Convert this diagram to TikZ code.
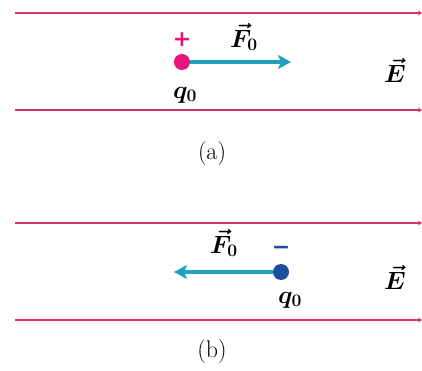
\RequirePackage{fix-cm}
\documentclass[tikz,border=0pt]{standalone}
\usepackage{amsmath,amssymb}
\usepackage{fontspec}
\newfontfamily\signfont{DejaVu Sans}
\usepackage{tikz}
\usetikzlibrary{arrows.meta,positioning,calc}

\definecolor{fieldred}{RGB}{214,48,110}
\definecolor{poscharge}{RGB}{232,20,122}
\definecolor{negcharge}{RGB}{28,78,160}
\definecolor{forcecyan}{RGB}{34,160,192}

\begin{document}
\begin{tikzpicture}[x=1pt, y=-1pt,
    field/.style={fieldred, line width=2.6pt, -{Stealth[length=4pt,width=5pt]}},
    charge/.style={circle, minimum size=16pt, inner sep=0pt},
    force/.style={forcecyan, line width=4.5pt, -{Stealth[length=13pt,width=14pt,inset=3pt]}},
    lbl/.style={font=\fontsize{25}{27}\selectfont\boldmath},
    panel/.style={font=\fontsize{24}{26}\selectfont},
    sign/.style={font=\fontsize{22}{22}\selectfont\signfont\bfseries}
]
\useasboundingbox (0,0) rectangle (422,371);

% (a) positive charge
\draw[field] (15,13) -- (422,13);
\draw[field] (15,110) -- (422,110);
\node[charge, fill=poscharge] (qa) at (182,62) {};
\coordinate (fa) at (291,62);
\draw[force] (qa.east) -- (fa);
\node[sign, text=poscharge] (pa) at (182,40) {+};
\node[lbl] (Fa) at (244,37) {$\vec{F}_0$};
\node[lbl] (qla) at (185,95) {$q_0$};
\node[lbl] (Ea) at (395,70) {$\vec{E}$};
\node[panel] (capa) at (212,154) {(a)};

% (b) negative charge
\draw[field] (15,223) -- (422,223);
\draw[field] (15,320) -- (422,320);
\node[charge, fill=negcharge] (qb) at (281,272) {};
\coordinate (fb) at (174,272);
\draw[force] (qb.west) -- (fb);
\node[sign, text=negcharge] (mb) at (281,250) {−};
\node[lbl] (Fb) at (224,243) {$\vec{F}_0$};
\node[lbl] (qlb) at (290,300) {$q_0$};
\node[lbl] (Eb) at (395,277) {$\vec{E}$};
\node[panel] (capb) at (212,352) {(b)};
\end{tikzpicture}
\end{document}
